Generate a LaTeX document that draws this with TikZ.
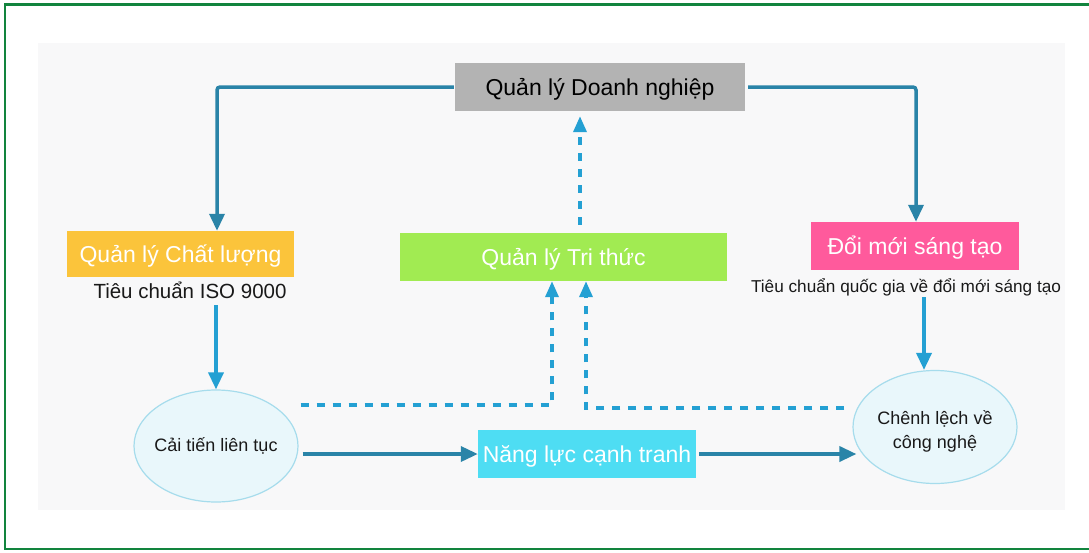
\documentclass[tikz,border=0pt]{standalone}
\usepackage{fontspec}
\setmainfont{Liberation Sans}
\usetikzlibrary{arrows.meta,shapes.geometric,calc}

\definecolor{frameGreen}{HTML}{12843E}
\definecolor{panelGray}{HTML}{F8F8F9}
\definecolor{boxGray}{HTML}{B3B3B3}
\definecolor{boxOrange}{HTML}{FBC43B}
\definecolor{boxGreen}{HTML}{A1EB52}
\definecolor{boxPink}{HTML}{FF5A9C}
\definecolor{boxCyan}{HTML}{4EDDF3}
\definecolor{ovalFill}{HTML}{E9F7FB}
\definecolor{ovalLine}{HTML}{A6DCEC}
\definecolor{linkDark}{HTML}{2A84A8}
\definecolor{linkLight}{HTML}{24A0D3}

\begin{document}
\begin{tikzpicture}[x=1pt,y=-1pt,
  box/.style={rectangle, inner sep=0pt, minimum height=48pt,
    text height=16.5pt, text depth=0pt,
    font=\fontsize{23}{27}\selectfont, text=white},
  oval/.style={ellipse, inner sep=0pt, fill=ovalFill, draw=ovalLine,
    line width=1.2pt, minimum width=164pt, minimum height=113pt,
    font=\fontsize{18}{24}\selectfont, text=black!90},
  note/.style={inner sep=0pt, anchor=base, text=black!90},
  solidlink/.style={draw=linkDark, line width=3.5pt, rounded corners=3pt,
    -{Triangle[length=17pt,width=15pt]}},
  lightlink/.style={draw=linkLight, line width=3.5pt,
    -{Triangle[length=17pt,width=15pt]}},
  dashlink/.style={draw=linkLight, line width=3.5pt,
    dash pattern=on 8pt off 8pt,
    -{Triangle[length=16pt,width=13pt]}},
]
\useasboundingbox (0,0) rectangle (1089,552);

% outer frame and panel
\draw[frameGreen, line width=2.4pt] (5,4.5) rectangle (1100,549);
\fill[panelGray] (38,43) rectangle (1065,510);

% boxes
\node[box, fill=boxGray, minimum width=290pt, text=black] (dn) at (600,87) {Quản lý Doanh nghiệp};
\node[box, fill=boxOrange, minimum width=227pt, minimum height=46pt] (cl) at (180.5,254) {Quản lý Chất lượng};
\node[box, fill=boxGreen, minimum width=327pt] (tt) at (563.5,257) {Quản lý Tri thức};
\node[box, fill=boxPink, minimum width=208pt] (dm) at (915,246) {Đổi mới sáng tạo};
\node[box, fill=boxCyan, minimum width=218pt] (nl) at (587,454) {Năng lực cạnh tranh};

% ovals
\node[oval, minimum height=112pt] (ct) at (216,446) {\makebox[0pt]{Cải tiến liên tục}};
\node[oval] (cn) at (935,427) {\makebox[0pt]{\raisebox{-5pt}[\height][\depth]{\begin{tabular}{@{}c@{}}Chênh lệch về\\công nghệ\end{tabular}}}};

% standards
\node[note, font=\fontsize{20.5}{24}\selectfont] (iso) at (190,298) {Tiêu chuẩn ISO 9000};
\node[note, font=\fontsize{17.2}{20}\selectfont] (qg) at (906,292) {Tiêu chuẩn quốc gia về đổi mới sáng tạo};

% solid connectors
\draw[solidlink] ([xshift=-1pt]dn.west) -| ([xshift=36.5pt]cl.north);
\draw[solidlink] ([xshift=3pt]dn.east) -| ([xshift=1pt]dm.north);
\draw[lightlink] ([yshift=-7pt]iso.south -| ct.north) -- (ct.north);
\draw[lightlink] ([xshift=18pt,yshift=-1.5pt]qg.south) -- ([xshift=18pt]qg.south |- cn.north);
\draw[solidlink] ([xshift=4pt]ct.east |- nl.west) -- (nl.west);
\draw[solidlink] ([xshift=3pt]nl.east) -- ([xshift=4pt]nl.east -| cn.west);

% dashed connectors
\draw[dashlink] ([xshift=16.5pt,yshift=8pt]tt.north) -- ([xshift=16.5pt,yshift=-5pt]tt.north |- dn.south);
\draw[dashlink] ([xshift=2pt]ct.east |- 0,405) -| ([xshift=-11.5pt]tt.south);
\draw[dashlink] ([xshift=-8pt]cn.west |- 0,408) -| ([xshift=22.5pt]tt.south);
\end{tikzpicture}
\end{document}
